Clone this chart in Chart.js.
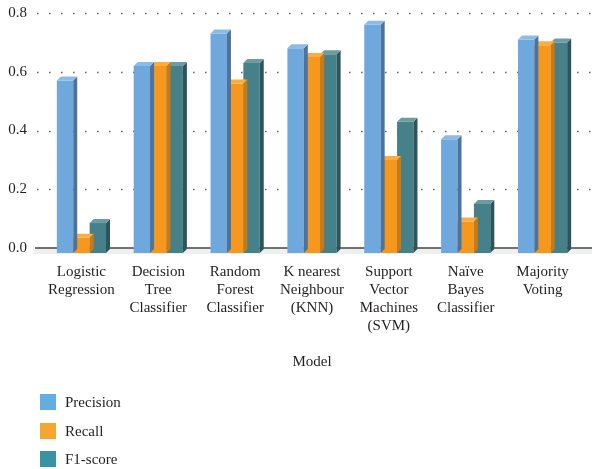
<!DOCTYPE html>
<html>
<head>
<meta charset="utf-8">
<script src="https://cdn.jsdelivr.net/npm/chart.js@4/dist/chart.umd.min.js"></script>
<style>
  html, body { margin: 0; padding: 0; background: #fff; }
  #wrap { position: relative; width: 592px; height: 469px; }
  #c { position: absolute; left: 0; top: 0; }
  #legend { position: absolute; left: 40px; top: 394px; font-family: "Liberation Serif", "Times New Roman", serif; font-size: 15px; color: #231F20; }
  .li { position: relative; height: 28.5px; }
  .sw { position: absolute; left: 0; top: 0; width: 16px; height: 16px; }
  .lt { position: absolute; left: 25px; top: -1px; line-height: 18px; white-space: nowrap; }
</style>
</head>
<body>
<div id="wrap">
  <canvas id="c" width="592" height="469"></canvas>
  <div id="legend"></div>
</div>
<script>
// ---- data ----
const categories = [
  ["Logistic", "Regression"],
  ["Decision", "Tree", "Classifier"],
  ["Random", "Forest", "Classifier"],
  ["K nearest", "Neighbour", "(KNN)"],
  ["Support", "Vector", "Machines", "(SVM)"],
  ["Naïve", "Bayes", "Classifier"],
  ["Majority", "Voting"]
];
const seriesNames = ["Precision", "Recall", "F1-score"];
const precision = [0.57, 0.62, 0.73, 0.68, 0.76, 0.37, 0.71];
const recall    = [0.035, 0.62, 0.56, 0.65, 0.30, 0.09, 0.69];
const f1score   = [0.085, 0.62, 0.63, 0.66, 0.43, 0.15, 0.70];
const yTicks = [0, 0.2, 0.4, 0.6, 0.8];
const xTitle = "Model";

// ---- styles ----
const frontColors  = ["#6FA8DC", "#F7981E", "#468089"];
const topColors    = ["#8EBBE6", "#FBAE3E", "#6C9BA2"];
const sideColors   = ["#4B739E", "#C77A16", "#2B545B"];
const legendColors = ["#62AEE0", "#F5A62F", "#3A92A6"];
const FONT = "'Liberation Serif', 'Times New Roman', serif";
const D = 4;      // 3D depth
const EXT = 5;    // bar extension into floor

const threeD = {
  id: 'threeD',
  beforeDatasetsDraw(chart) {
    const ctx = chart.ctx, ys = chart.scales.y;
    const W = chart.width;
    const y0 = ys.getPixelForValue(0);
    ctx.save();
    // floor
    ctx.fillStyle = "#EEF0EF";
    ctx.beginPath();
    ctx.moveTo(37, y0);
    ctx.lineTo(W, y0);
    ctx.lineTo(W, y0 + 6);
    ctx.lineTo(32, y0 + 6);
    ctx.closePath();
    ctx.fill();
    // dotted grid lines
    ctx.strokeStyle = "#666";
    ctx.lineWidth = 1.6;
    ctx.setLineDash([1.6, 10.4]);
    yTicks.forEach(v => {
      if (v === 0) return;
      const py = Math.round(ys.getPixelForValue(v)) + 0.5;
      ctx.beginPath();
      ctx.moveTo(37, py);
      ctx.lineTo(W, py);
      ctx.stroke();
    });
    ctx.setLineDash([]);
    // baseline
    ctx.strokeStyle = "#444";
    ctx.lineWidth = 1.6;
    ctx.beginPath();
    ctx.moveTo(35, y0);
    ctx.lineTo(W, y0);
    ctx.stroke();
    ctx.restore();
  },
  afterDatasetDraw(chart, args) {
    const ctx = chart.ctx, i = args.index;
    ctx.save();
    args.meta.data.forEach(bar => {
      const p = bar.getProps(['x', 'y', 'base', 'width'], true);
      const l = p.x - p.width / 2, r = p.x + p.width / 2;
      const t = p.y, b = p.base + EXT;
      ctx.fillStyle = frontColors[i];
      ctx.fillRect(l, p.base - 1, p.width, EXT + 1);
      ctx.fillStyle = sideColors[i];
      ctx.beginPath();
      ctx.moveTo(r, t);
      ctx.lineTo(r + D, t - D);
      ctx.lineTo(r + D, b - D);
      ctx.lineTo(r, b);
      ctx.closePath();
      ctx.fill();
      ctx.fillStyle = topColors[i];
      ctx.beginPath();
      ctx.moveTo(l, t);
      ctx.lineTo(l + D, t - D);
      ctx.lineTo(r + D, t - D);
      ctx.lineTo(r, t);
      ctx.closePath();
      ctx.fill();
    });
    ctx.restore();
  }
};

const seriesData = [precision, recall, f1score];
const chart = new Chart(document.getElementById('c'), {
  type: 'bar',
  data: {
    labels: categories,
    datasets: seriesNames.map((n, i) => ({
      label: n,
      data: seriesData[i],
      backgroundColor: frontColors[i],
      borderWidth: 0,
      categoryPercentage: 0.64,
      barPercentage: 1.0
    }))
  },
  options: {
    responsive: false,
    animation: false,
    devicePixelRatio: 1,
    layout: { padding: { left: 0, right: 11, top: 13, bottom: 0 } },
    plugins: { legend: { display: false }, tooltip: { enabled: false } },
    scales: {
      x: {
        grid: { display: false, drawTicks: false },
        border: { display: false },
        ticks: {
          color: "#231F20",
          font: { family: FONT, size: 15, lineHeight: 1.2 },
          padding: 15,
          maxRotation: 0,
          autoSkip: false
        },
        title: {
          display: true, text: xTitle, color: "#231F20",
          font: { family: FONT, size: 15, lineHeight: 1.2 },
          padding: { top: 0, bottom: 98 }
        },
        afterFit: s => { s.height = 221; s.paddingLeft = 0; s.paddingRight = 0; }
      },
      y: {
        min: 0, max: 0.8,
        afterBuildTicks: s => { s.ticks = yTicks.map(v => ({ value: v })); },
        grid: { display: false, drawTicks: false },
        border: { display: false },
        ticks: {
          color: "#231F20",
          font: { family: FONT, size: 15 },
          padding: 16,
          callback: v => Number(v).toFixed(1)
        },
        afterFit: s => { s.width = 43; s.paddingTop = 0; s.paddingBottom = 0; }
      }
    }
  },
  plugins: [threeD]
});

// HTML legend from datasets
const leg = document.getElementById('legend');
chart.data.datasets.forEach((ds, i) => {
  const d = document.createElement('div');
  d.className = 'li';
  d.innerHTML = '<span class="sw" style="background:' + legendColors[i] + '"></span><span class="lt"></span>';
  d.querySelector('.lt').textContent = ds.label;
  leg.appendChild(d);
});
</script>
</body>
</html>
